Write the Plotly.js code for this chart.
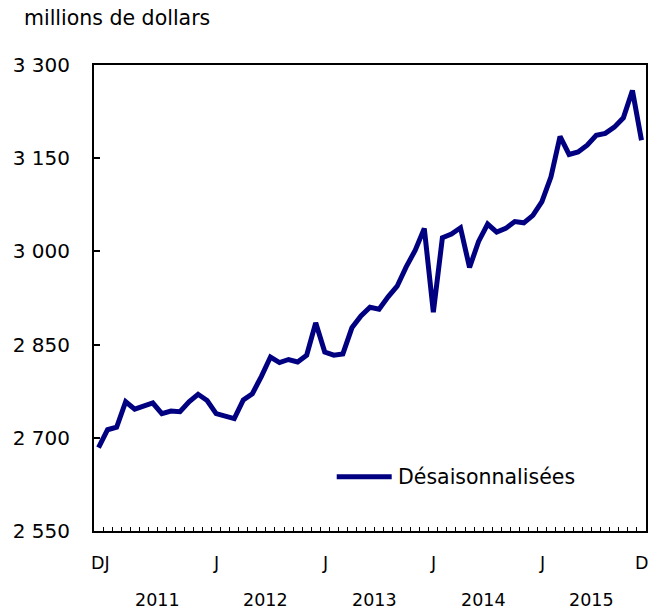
<!DOCTYPE html>
<html>
<head>
<meta charset="utf-8">
<script src="https://cdn.plot.ly/plotly-3.0.1.min.js"></script>
<style>html,body{margin:0;padding:0;background:#fff;}#chart{width:661px;height:615px;}</style>
</head>
<body>
<div id="chart"></div>
<script>
const months = ["2010-12",
"2011-01","2011-02","2011-03","2011-04","2011-05","2011-06","2011-07","2011-08","2011-09","2011-10","2011-11","2011-12",
"2012-01","2012-02","2012-03","2012-04","2012-05","2012-06","2012-07","2012-08","2012-09","2012-10","2012-11","2012-12",
"2013-01","2013-02","2013-03","2013-04","2013-05","2013-06","2013-07","2013-08","2013-09","2013-10","2013-11","2013-12",
"2014-01","2014-02","2014-03","2014-04","2014-05","2014-06","2014-07","2014-08","2014-09","2014-10","2014-11","2014-12",
"2015-01","2015-02","2015-03","2015-04","2015-05","2015-06","2015-07","2015-08","2015-09","2015-10","2015-11","2015-12"];

const desaisonnalisees = [2684,2713,2717,2758,2746,2750,2756,2739,2743,2742,
2758,2770,2760,2739,2735,2731,2761,2771,2799,2830,
2821,2826,2822,2833,2885,2838,2833,2835,2877,2896,
2910,2907,2927,2944,2975,3002,3037,2902,3022,3028,
3038,2974,3016,3044,3031,3037,3048,3046,3058,3080,
3120,3185,3156,3160,3171,3187,3190,3200,3215,3259,3179];

// month labels under the axis: [first month, last month] spanned by each label
const monthTickFrom = ["2010-12","2012-01","2013-01","2014-01","2015-01","2015-12"];
const monthTickTo   = ["2011-01","2012-01","2013-01","2014-01","2015-01","2015-12"];
const monthTickText = ["DJ","J","J","J","J","D"];
const years = ["2011","2012","2013","2014","2015"];

const seriesName = "Désaisonnalisées";
const yTitle = "millions de dollars";

const xIdx = months.map((m, i) => i);

const FONT = "DejaVu Sans, Verdana, sans-serif";
const NAVY = "#000080";

const annotations = [];
monthTickText.forEach((t, k) => {
  const a = months.indexOf(monthTickFrom[k]), b = months.indexOf(monthTickTo[k]);
  annotations.push({
    x: (a + b) / 2, xref: "x", y: 0, yref: "paper", yanchor: "middle", xanchor: "center",
    yshift: -32, xshift: (k === 0 ? -3 : 0),
    text: t, showarrow: false,
    font: {family: FONT, size: 17.5, color: "#000"}
  });
});
years.forEach(y => {
  const a = months.indexOf(y + "-01"), b = months.indexOf(y + "-12");
  annotations.push({
    x: (a + b) / 2, xref: "x", y: 0, yref: "paper", yanchor: "middle", xanchor: "center",
    yshift: -69, text: y, showarrow: false,
    font: {family: FONT, size: 17.5, color: "#000"}
  });
});
annotations.push({
  x: 0, xref: "paper", xanchor: "left", xshift: -72,
  y: 1, yref: "paper", yanchor: "middle", yshift: 47,
  text: yTitle, showarrow: false,
  font: {family: FONT, size: 20.5, color: "#000"}
});
annotations.push({
  x: 0.547, xref: "paper", xanchor: "left",
  y: 0.1165, yref: "paper", yanchor: "middle",
  text: seriesName, showarrow: false,
  font: {family: FONT, size: 20.5, color: "#000"}
});

const tickPos = [];
for (let i = 0; i < months.length - 1; i++) tickPos.push(i + 0.5);

const data = [{
  x: xIdx, y: desaisonnalisees, type: "scatter", mode: "lines",
  name: seriesName, text: months,
  line: {color: NAVY, width: 5},
  showlegend: false
}];

const layout = {
  width: 661, height: 615,
  margin: {l: 94, r: 15, t: 65, b: 84},
  paper_bgcolor: "#fff", plot_bgcolor: "#fff",
  separators: ", ",
  font: {family: FONT, size: 20, color: "#000"},
  xaxis: {
    range: [-0.5, months.length - 0.5],
    showgrid: false, zeroline: false,
    showline: true, linecolor: "#000", linewidth: 2, mirror: true,
    tickmode: "array", tickvals: tickPos, ticktext: tickPos.map(() => ""),
    ticks: "inside", ticklen: 4, tickwidth: 1, tickcolor: "#000",
    showticklabels: false
  },
  yaxis: {
    range: [2550, 3300], dtick: 150, tick0: 2550,
    separatethousands: true,
    showgrid: false, zeroline: false,
    showline: true, linecolor: "#000", linewidth: 2, mirror: true,
    ticks: "inside", ticklen: 6, tickwidth: 2, tickcolor: "#000",
    ticklabelstandoff: 18,
    tickfont: {family: FONT, size: 20, color: "#000"}
  },
  shapes: [{
    type: "line", xref: "paper", yref: "paper",
    x0: 0.4397, x1: 0.5393, y0: 0.1165, y1: 0.1165,
    line: {color: NAVY, width: 5}
  }],
  annotations: annotations
};

Plotly.newPlot("chart", data, layout, {staticPlot: true, displayModeBar: false});
</script>
</body>
</html>
